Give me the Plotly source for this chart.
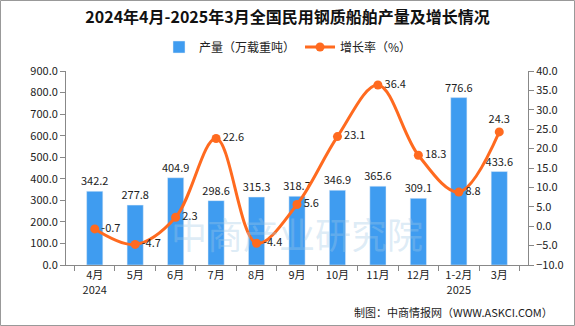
import plotly.graph_objects as go

categories = ["4月<br>2024", "5月", "6月", "7月", "8月", "9月", "10月", "11月", "12月", "1-2月<br>2025", "3月"]
production = [342.2, 277.8, 404.9, 298.6, 315.3, 318.7, 346.9, 365.6, 309.1, 776.6, 433.6]
growth = [-0.7, -4.7, 2.3, 22.6, -4.4, 5.6, 23.1, 36.4, 18.3, 8.8, 24.3]
left_ticks = [0, 100, 200, 300, 400, 500, 600, 700, 800, 900]
right_ticks = [-10, -5, 0, 5, 10, 15, 20, 25, 30, 35, 40]

FONT = "Noto Sans CJK SC, SimSun, sans-serif"
W, H = 575, 326
L, R, T, B = 66, 47, 71, 61
px = W - L - R
ph = H - T - B

fig = go.Figure()
fig.add_trace(go.Bar(
    x=categories, y=production, name="产量（万载重吨）",
    marker=dict(color="#3f9cf0"),
    text=[f"{v:.1f}" for v in production], textposition="outside",
    constraintext="none",
    textfont=dict(size=11, color="#222"), cliponaxis=False,
))
fig.add_trace(go.Scatter(
    x=categories, y=growth, name="增长率（%）", yaxis="y2",
    mode="lines+markers+text",
    line=dict(color="#ff6a1f", width=3, shape="spline", smoothing=1.0),
    marker=dict(size=9, color="#ff6a1f"),
    text=[f"{v:.1f}" for v in growth],
    textposition=["middle right"] * 10 + ["top center"],
    textfont=dict(size=11, color="#222"), cliponaxis=False,
))

# border around whole image
fig.add_shape(type="rect", xref="paper", yref="paper",
              x0=(0.5 - L) / px, x1=(W - 0.5 - L) / px,
              y0=-(B - 0.5) / ph, y1=1 + (T - 0.5) / ph,
              line=dict(color="#999", width=1), fillcolor="rgba(0,0,0,0)")

fig.add_annotation(text="中商产业研究院", xref="paper", yref="paper", x=0.5, y=0.02,
                   yanchor="bottom",
                   showarrow=False, font=dict(size=36, color="rgba(160,200,230,0.35)", family=FONT))

fig.update_layout(
    width=W, height=H, margin=dict(l=L, r=R, t=T, b=B, autoexpand=False),
    paper_bgcolor="white", plot_bgcolor="white",
    font=dict(family=FONT, size=11, color="#222"),
    title=dict(text="<b>2024年4月-2025年3月全国民用钢质船舶产量及增长情况</b>",
               x=0.5, xref="container", y=(H - 17) / H, yref="container", yanchor="middle",
               font=dict(size=16, color="#111")),
    legend=dict(orientation="h", x=(288 - L) / px, xanchor="center", xref="paper",
                y=(H - B - 47) / ph, yref="paper", yanchor="middle",
                font=dict(size=12), bgcolor="rgba(0,0,0,0)", itemwidth=30),
    bargap=0.6,
    showlegend=True,
    xaxis=dict(showline=True, linecolor="#888", ticks="outside", tickson="boundaries",
               ticklen=5, tickcolor="#888", showgrid=False, tickfont=dict(size=11)),
    yaxis=dict(range=[0, 900], tickvals=left_ticks, tickformat=".1f", showline=True,
               linecolor="#888", ticks="outside", ticklen=5, tickcolor="#888", showgrid=False,
               zeroline=False),
    yaxis2=dict(range=[-10, 40], tickvals=right_ticks, tickformat=".1f", overlaying="y", side="right",
                showline=True, linecolor="#888", ticks="outside", ticklen=5, tickcolor="#888",
                showgrid=False, zeroline=False),
)
fig.add_annotation(text="制图：中商情报网（WWW.ASKCI.COM）", xref="paper", yref="paper",
                   x=(555 - L) / px, xanchor="right", y=-(312 - (H - B)) / ph, yanchor="middle",
                   showarrow=False, font=dict(size=11, color="#222"))

fig.write_html("out.html")
